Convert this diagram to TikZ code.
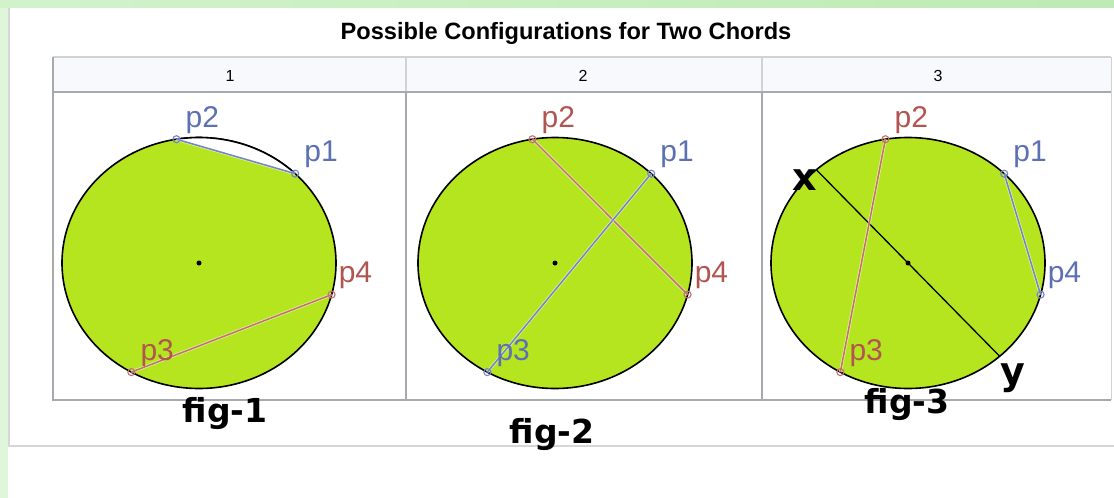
\documentclass[tikz,border=0pt]{standalone}
\usepackage{fontspec}
\setmainfont{Liberation Sans}
\newfontfamily\figfont{DejaVu Sans}
\usetikzlibrary{calc}
\definecolor{bandA}{HTML}{D2F2CC}
\definecolor{bandB}{HTML}{BDEBB3}
\definecolor{sideband}{HTML}{DFF6DB}
\definecolor{panelline}{HTML}{D4D6D8}
\definecolor{tableline}{HTML}{A6AAAE}
\definecolor{headbg}{HTML}{F8F9FD}
\definecolor{headline}{HTML}{D0D2D4}
\definecolor{disc}{HTML}{B5E51F}
\definecolor{chordblue}{HTML}{7484CC}
\definecolor{chordred}{HTML}{C46E72}
\definecolor{labblue}{HTML}{5E70B4}
\definecolor{labred}{HTML}{B25550}
\tikzset{
  ell/.style={fill=disc, draw=black, line width=1.6pt},
  chordhalo/.style={draw=white, line width=3pt, opacity=0.55},
  bluechord/.style={draw=chordblue, line width=1.5pt},
  redchord/.style={draw=chordred, line width=1.5pt},
  bluept/.style={circle, draw=chordblue, line width=1.1pt, inner sep=0pt, minimum size=7pt},
  redpt/.style={circle, draw=chordred, line width=1.1pt, inner sep=0pt, minimum size=7pt},
  bluelab/.style={anchor=base west, text=labblue, inner sep=0pt, font=\fontsize{30}{30}\selectfont},
  redlab/.style={anchor=base west, text=labred, inner sep=0pt, font=\fontsize{30}{30}\selectfont},
  figlab/.style={anchor=base, inner sep=0pt, font=\figfont\bfseries\fontsize{33}{33}\selectfont},
  xylab/.style={inner sep=0pt, font=\figfont\bfseries\fontsize{38}{38}\selectfont},
  headlab/.style={inner sep=0pt, font=\fontsize{16}{16}\selectfont},
  dotmark/.style={circle, fill=black, inner sep=0pt, minimum size=5pt}
}
\begin{document}
\begin{tikzpicture}[x=1pt, y=-1pt]
\useasboundingbox (0,0) rectangle (1114,498);
% background bands
\fill[white] (0,0) rectangle (1114,498);
\fill[sideband] (0,0) rectangle (8,498);
\shade[left color=bandA, right color=bandB] (0,0) rectangle (1114,7);
% panel
\draw[panelline, line width=1.5pt] (9,8) -- (9,446) -- (1114,446);
% title
\node[inner sep=0pt, anchor=base, font=\bfseries\fontsize{23.6}{23.6}\selectfont] (title) at (566,39) {Possible Configurations for Two Chords};
% table header
\fill[headbg] (53,57) rectangle (1111,91);
\draw[headline, line width=1.5pt] (53,57) -- (1111,57);
\draw[headline, line width=1.5pt] (406,57) -- (406,91);
\draw[headline, line width=1.5pt] (762,57) -- (762,91);
\draw[headline, line width=1pt] (1111,57) -- (1111,400);
\draw[tableline, line width=2pt] (53,57) -- (53,400) -- (1111,400);
\draw[tableline, line width=2pt] (53,92) -- (1111,92);
\draw[tableline, line width=2pt] (406,92) -- (406,400);
\draw[tableline, line width=2pt] (762,92) -- (762,400);
\node[headlab] (h1) at (230,76) {1};
\node[headlab] (h2) at (583,76) {2};
\node[headlab] (h3) at (938,76) {3};
% ---------- figure 1 ----------
\coordinate (c1) at (199,263);
\draw[ell] (c1) ellipse [x radius=137, y radius=125.5];
\path (c1) ++(-99.5:137 and 125.5) coordinate (a2);
\path (c1) ++(-45.4:137 and 125.5) coordinate (a1);
\path (c1) ++(14.6:137 and 125.5) coordinate (a4);
\path (c1) ++(119.6:137 and 125.5) coordinate (a3);
\fill[white] (a1) arc[start angle=-45.4, end angle=-99.5, x radius=137, y radius=125.5] -- cycle;
\draw[black, line width=1.6pt] (a1) arc[start angle=-45.4, end angle=-99.5, x radius=137, y radius=125.5];
\node[dotmark] (m1) at (c1) {};
\draw[chordhalo] (a2) -- (a1);
\draw[bluechord] (a2) -- (a1);
\draw[chordhalo] (a3) -- (a4);
\draw[redchord] (a3) -- (a4);
\node[bluept] (A2) at (a2) {};
\node[bluept] (A1) at (a1) {};
\node[redpt] (A4) at (a4) {};
\node[redpt] (A3) at (a3) {};
\node[bluelab] (la2) at ($(a2)+(9,-12)$) {p2};
\node[bluelab] (la1) at ($(a1)+(9,-12)$) {p1};
\node[redlab] (la4) at ($(a4)+(7,-12)$) {p4};
\node[redlab] (la3) at ($(a3)+(9,-12)$) {p3};
\node[figlab] (f1) at (225,422) {fig-1};
% ---------- figure 2 ----------
\coordinate (c2) at (555,263);
\draw[ell] (c2) ellipse [x radius=137, y radius=125.5];
\path (c2) ++(-99.5:137 and 125.5) coordinate (b2);
\path (c2) ++(-45.4:137 and 125.5) coordinate (b1);
\path (c2) ++(14.6:137 and 125.5) coordinate (b4);
\path (c2) ++(119.6:137 and 125.5) coordinate (b3);
\node[dotmark] (m2) at (c2) {};
\draw[chordhalo] (b2) -- (b4);
\draw[redchord] (b2) -- (b4);
\draw[chordhalo] (b1) -- (b3);
\draw[bluechord] (b1) -- (b3);
\node[redpt] (B2) at (b2) {};
\node[bluept] (B1) at (b1) {};
\node[redpt] (B4) at (b4) {};
\node[bluept] (B3) at (b3) {};
\node[redlab] (lb2) at ($(b2)+(9,-12)$) {p2};
\node[bluelab] (lb1) at ($(b1)+(9,-12)$) {p1};
\node[redlab] (lb4) at ($(b4)+(7,-12)$) {p4};
\node[bluelab] (lb3) at ($(b3)+(9,-12)$) {p3};
\node[figlab] (f2) at (552,443) {fig-2};
% ---------- figure 3 ----------
\coordinate (c3) at (908,263);
\draw[ell] (c3) ellipse [x radius=137, y radius=125.5];
\path (c3) ++(-99.5:137 and 125.5) coordinate (d2);
\path (c3) ++(-45.4:137 and 125.5) coordinate (d1);
\path (c3) ++(14.6:137 and 125.5) coordinate (d4);
\path (c3) ++(119.6:137 and 125.5) coordinate (d3);
\path (c3) ++(-132:137 and 125.5) coordinate (dx);
\path (c3) ++(48:137 and 125.5) coordinate (dy);
\node[dotmark] (m3) at (c3) {};
\draw[black, line width=1.3pt] (dx) -- (dy);
\draw[chordhalo] (d2) -- (d3);
\draw[redchord] (d2) -- (d3);
\draw[chordhalo] (d1) -- (d4);
\draw[bluechord] (d1) -- (d4);
\node[redpt] (D2) at (d2) {};
\node[bluept] (D1) at (d1) {};
\node[bluept] (D4) at (d4) {};
\node[redpt] (D3) at (d3) {};
\node[redlab] (ld2) at ($(d2)+(9,-12)$) {p2};
\node[bluelab] (ld1) at ($(d1)+(9,-12)$) {p1};
\node[bluelab] (ld4) at ($(d4)+(7,-12)$) {p4};
\node[redlab] (ld3) at ($(d3)+(9,-12)$) {p3};
\node[xylab] (lx) at (805,180) {x};
\node[xylab] (ly) at (1013,378) {y};
\node[figlab] (f3) at (907,413) {fig-3};
\end{tikzpicture}
\end{document}
